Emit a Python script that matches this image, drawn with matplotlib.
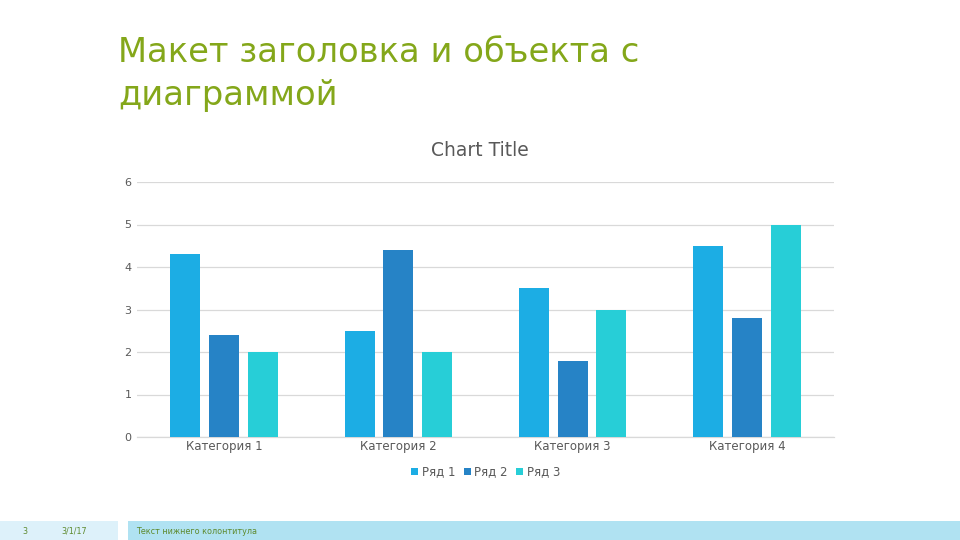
import matplotlib
matplotlib.use("Agg")
import matplotlib.pyplot as plt
import numpy as np
from matplotlib.patches import Rectangle

categories = ["Категория 1", "Категория 2", "Категория 3", "Категория 4"]
series_names = ["Ряд 1", "Ряд 2", "Ряд 3"]
series1 = [4.3, 2.5, 3.5, 4.5]
series2 = [2.4, 4.4, 1.8, 2.8]
series3 = [2.0, 2.0, 3.0, 5.0]
yticks = [0, 1, 2, 3, 4, 5, 6]

colors = ["#1CADE4", "#2683C6", "#27CED7"]
title_color = "#84A71A"
text_color = "#595959"

fig = plt.figure(figsize=(9.6, 5.4), dpi=100)
fig.patch.set_facecolor("white")

# Slide title
fig.text(118 / 960, 1 - 53 / 540, "Макет заголовка и объекта с", color=title_color,
         fontsize=24.3, ha="left", va="center", family="DejaVu Sans")
fig.text(118 / 960, 1 - 95 / 540, "диаграммой", color=title_color,
         fontsize=24.3, ha="left", va="center", family="DejaVu Sans")

# Chart axes
ax = fig.add_axes([137 / 960, 1 - 437 / 540, (834 - 137) / 960, (437 - 182) / 540])
x = np.arange(len(categories))
width = 0.172
offset = 0.222
for i, vals in enumerate([series1, series2, series3]):
    ax.bar(x + (i - 1) * offset, vals, width, color=colors[i], label=series_names[i], zorder=3)

ax.set_xlim(-0.5, len(categories) - 0.5)
ax.set_ylim(0, 6)
ax.set_yticks(yticks)
ax.set_xticks(x)
ax.set_xticklabels(categories, fontsize=8.5, color=text_color)
ax.tick_params(axis="y", labelsize=8, labelcolor=text_color, length=0, pad=4)
ax.tick_params(axis="x", length=0, pad=2)
ax.grid(axis="y", color="#D9D9D9", linewidth=0.9, zorder=0)
for s in ["top", "right", "left"]:
    ax.spines[s].set_visible(False)
ax.spines["bottom"].set_color("#D9D9D9")
ax.spines["bottom"].set_linewidth(0.9)

fig.text(480 / 960, 1 - 151 / 540, "Chart Title", ha="center", va="center",
         fontsize=13.5, color=text_color)

leg = ax.legend(loc="upper center", bbox_to_anchor=(0.5, -0.07), ncol=3, frameon=False,
                fontsize=8.5, handlelength=0.6, handleheight=0.6, handletextpad=0.3,
                columnspacing=0.7)
for t in leg.get_texts():
    t.set_color(text_color)

# Footer
fig.patches.append(Rectangle((0, 0), 118 / 960, 19 / 540, transform=fig.transFigure,
                             facecolor="#DDF1FA", edgecolor="none"))
fig.patches.append(Rectangle((128 / 960, 0), 1 - 128 / 960, 19 / 540, transform=fig.transFigure,
                             facecolor="#B0E2F2", edgecolor="none"))
footer_color = "#5E8A2E"
fig.text(22 / 960, 1 - 531 / 540, "3", fontsize=5.8, color=footer_color, va="center")
fig.text(61 / 960, 1 - 531 / 540, "3/1/17", fontsize=5.8, color=footer_color, va="center")
fig.text(136 / 960, 1 - 531 / 540, "Текст нижнего колонтитула", fontsize=5.8,
         color=footer_color, va="center")

fig.savefig("out.png", dpi=100, facecolor="white")
